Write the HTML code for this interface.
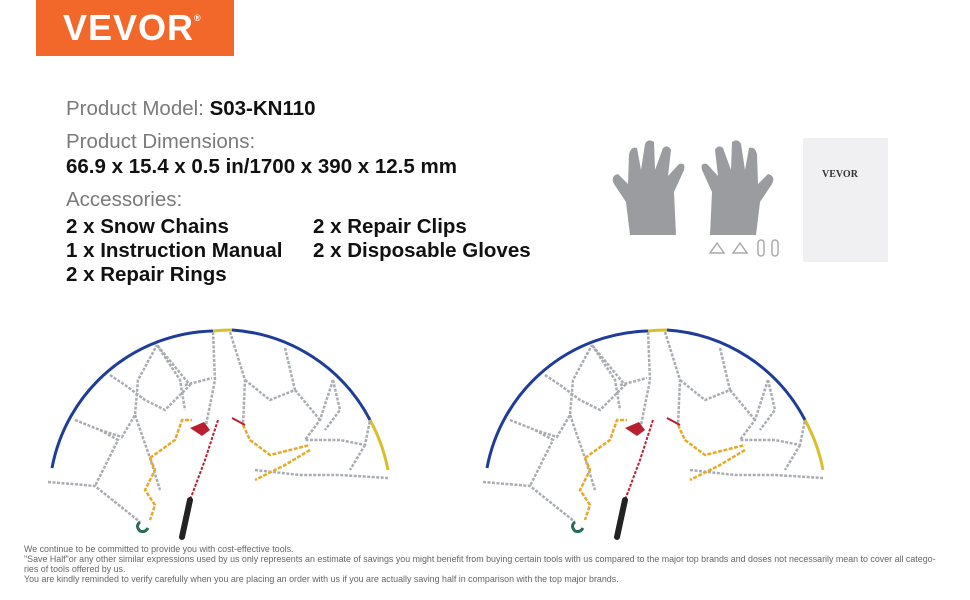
<!DOCTYPE html>
<html><head><meta charset="utf-8"><style>
body{margin:0;width:970px;height:600px;background:#fff;position:relative;overflow:hidden;font-family:"Liberation Sans",sans-serif}
.a{position:absolute;white-space:nowrap}
.g{color:#7a7a7a;font-size:20.5px}
.b{color:#111;font-size:20.5px;font-weight:bold}
.f{font-size:8.9px;color:#666;line-height:10px;left:24px}
</style></head><body>
<div class="a" style="left:36px;top:0;width:198px;height:56px;background:#f2682a"></div>
<div class="a" style="left:63px;top:7px;color:#fff;font-size:36px;font-weight:bold;letter-spacing:1px">VEVOR<span style="font-size:9px;vertical-align:top;position:relative;top:6px">®</span></div>
<div class="a g" style="left:66px;top:97px">Product Model: <b style="color:#111">S03-KN110</b></div>
<div class="a g" style="left:66px;top:130px">Product Dimensions:</div>
<div class="a b" style="left:66px;top:155px">66.9 x 15.4 x 0.5 in/1700 x 390 x 12.5 mm</div>
<div class="a g" style="left:66px;top:188px">Accessories:</div>
<div class="a b" style="left:66px;top:215px">2 x Snow Chains</div>
<div class="a b" style="left:313px;top:215px">2 x Repair Clips</div>
<div class="a b" style="left:66px;top:239px">1 x Instruction Manual</div>
<div class="a b" style="left:313px;top:239px">2 x Disposable Gloves</div>
<div class="a b" style="left:66px;top:263px">2 x Repair Rings</div>
<svg class="a" style="left:0;top:0" width="970" height="600">
<defs>
<g id="gl"><path d="M18,95 L14,62 L2,44 Q-2,36 6,34 L16,44 L17,14 Q19,6 25,8 L29,30 L33,4 Q36,-2 42,2 L43,30 L51,8 Q56,4 59,10 L56,36 L67,24 Q74,22 72,30 L62,52 L64,95 Z" fill="#9a9ca0"/></g>
<g id="ch" fill="none">
<path d="M52,468 A168,168 0 0 1 213,331" stroke="#1f3c98" stroke-width="3"/>
<path d="M213,331 A168,168 0 0 1 232,330" stroke="#d8c02c" stroke-width="3"/>
<path d="M232,330 A168,168 0 0 1 370,420" stroke="#1f3c98" stroke-width="3"/>
<path d="M370,420 A168,168 0 0 1 388,470" stroke="#d8c02c" stroke-width="3"/>
<g stroke="#a9adb2" stroke-width="2.5" stroke-dasharray="3 1.5">
<polyline points="48,482 95,486 140,522"/>
<polyline points="75,420 100,430 118,440 95,486"/>
<polyline points="100,430 122,437 135,415 138,380 157,345"/>
<polyline points="110,375 125,385 145,400 165,410 190,385 157,345"/>
<polyline points="135,415 150,458 160,490"/>
<polyline points="157,345 180,380 185,410"/>
<polyline points="213,332 215,380 205,430"/>
<polyline points="185,385 212,378"/>
<polyline points="230,332 245,380 243,425"/>
<polyline points="285,348 295,390 270,400 245,380"/>
<polyline points="333,380 320,420 305,440 340,440 365,445 370,420"/>
<polyline points="295,390 320,420"/>
<polyline points="255,470 300,475 340,475 388,478"/>
<polyline points="365,445 350,470"/>
<polyline points="333,380 340,410 325,430"/>
</g>
<g stroke="#e7a92a" stroke-width="2.5" stroke-dasharray="4 1.5">
<polyline points="150,458 155,470 145,490 155,505 150,520"/>
<polyline points="150,458 175,440 182,420 192,420"/>
<polyline points="243,425 250,440 270,455 310,445"/>
<polyline points="310,450 285,465 255,480"/>
</g>
<polyline points="218,420 205,460 190,500" stroke="#b82030" stroke-width="2" stroke-dasharray="3 1.5"/>
<polyline points="232,418 245,425" stroke="#b82030" stroke-width="2"/>
<path d="M190,428 l14,-6 l6,8 l-8,6z" fill="#b82030"/>
<line x1="190" y1="500" x2="182" y2="537" stroke="#222" stroke-width="6" stroke-linecap="round"/>
<path d="M140,522 q-5,4 0,9 q5,2 8,-3" stroke="#2a6a5a" stroke-width="3"/>
</g>
</defs>
<use href="#ch"/>
<use href="#ch" x="435"/>
<use href="#gl" x="612" y="140"/>
<g transform="translate(1472,0) scale(-1,1)"><use href="#gl" x="698" y="140"/></g>
<rect x="803" y="138" width="85" height="124" fill="#f0f0f2"/>
<text x="822" y="177" font-family="Liberation Serif" font-weight="bold" font-size="10" fill="#333">VEVOR</text>
<g fill="none" stroke="#aaa" stroke-width="1.5">
<path d="M710,253 l7,-10 l7,10z"/><path d="M733,253 l7,-10 l7,10z"/>
<rect x="758" y="240" width="6" height="16" rx="3"/><rect x="772" y="240" width="6" height="16" rx="3"/>
</g>
</svg>
<div class="a f" style="top:544px">We continue to be committed to provide you with cost-effective tools.<br>"Save Half"or any other similar expressions used by us only represents an estimate of savings you might benefit from buying certain tools with us compared to the major top brands and doses not necessarily mean to cover all catego-<br>ries of tools offered by us.<br>You are kindly reminded to verify carefully when you are placing an order with us if you are actually saving half in comparison with the top major brands.</div>
</body></html>
